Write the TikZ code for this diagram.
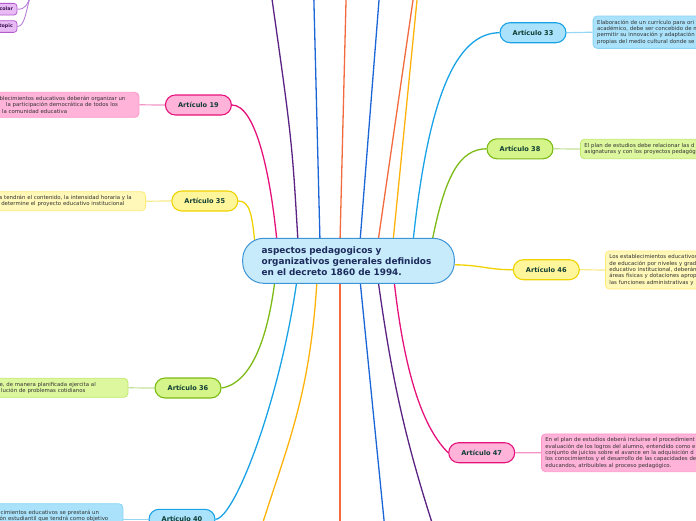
\documentclass[tikz,border=0pt]{standalone}
\usepackage{fontspec}
\setmainfont{DejaVu Sans}
\usepackage{tikz}
\usetikzlibrary{backgrounds}
\definecolor{centroRelleno}{HTML}{C7EBFB}
\definecolor{centroBorde}{HTML}{3D94D4}
\definecolor{centroTexto}{HTML}{1C2B5C}
\definecolor{etiquetaTexto}{HTML}{0F3D34}
\definecolor{cajaTexto}{HTML}{333333}
\definecolor{rosaLinea}{HTML}{E5127C}
\definecolor{rosaRelleno}{HTML}{FFB3D9}
\definecolor{rosaCaja}{HTML}{FF96CB}
\definecolor{amarilloLinea}{HTML}{EFD300}
\definecolor{amarilloRelleno}{HTML}{FFF59B}
\definecolor{amarilloCaja}{HTML}{FFF8B8}
\definecolor{amarilloCajaBorde}{HTML}{FFEB7A}
\definecolor{verdeLinea}{HTML}{7CBB16}
\definecolor{verdeRelleno}{HTML}{D5F58A}
\definecolor{verdeCaja}{HTML}{DDF79E}
\definecolor{verdeCajaBorde}{HTML}{BFE96A}
\definecolor{celesteLinea}{HTML}{19A2E6}
\definecolor{celesteRelleno}{HTML}{A9E2FA}
\definecolor{celesteCajaBorde}{HTML}{8AD5F5}
\definecolor{moradoLinea}{HTML}{5A2383}
\definecolor{azulLinea}{HTML}{1A66D6}
\definecolor{naranjaLinea}{HTML}{F26A3D}
\definecolor{ambarLinea}{HTML}{FFB20A}
\definecolor{lilaRelleno}{HTML}{E9BBF4}
\definecolor{lilaBorde}{HTML}{B25CD0}
\definecolor{lilaLinea}{HTML}{B77FD9}
\definecolor{lilaTexto}{HTML}{3B1452}

\begin{document}
\begin{tikzpicture}[x=1pt,y=-1pt,
  centro/.style={fill=centroRelleno,draw=centroBorde,line width=1pt,rounded corners=21pt,
    minimum width=211.6pt,minimum height=45pt,text width=173.6pt,inner xsep=19pt,align=left,
    font=\fontsize{8.9}{11}\selectfont\bfseries,text=centroTexto},
  pill/.style={rounded corners=10pt,minimum width=66pt,minimum height=20pt,inner sep=0pt,
    line width=1.1pt,font=\fontsize{6.6}{8}\selectfont\bfseries,text=etiquetaTexto},
  caja/.style={rounded corners=4pt,line width=0.8pt,inner xsep=4pt,inner ysep=0pt,align=left,
    font=\fontsize{5.4}{6.3}\selectfont,text=cajaTexto},
  lila/.style={fill=lilaRelleno,draw=lilaBorde,rounded corners=3pt,line width=0.8pt,
    text width=24pt,align=right,inner xsep=4pt,inner ysep=0pt,minimum height=11.7pt,
    font=\fontsize{4.8}{6}\selectfont\bfseries,text=lilaTexto},
  rama/.style={line width=1.3pt},
  enlace/.style={line width=1.2pt}]
\useasboundingbox (0,0) rectangle (696,520);
\clip (0,0) rectangle (696,520);

\node[centro] (main) at (348.5,260.8) {aspectos pedagogicos y\\organizativos generales definidos\\en el decreto 1860 de 1994.};

\node[pill,fill=rosaRelleno,draw=rosaLinea] (art19) at (198.4,105) {Artículo 19};
\node[pill,fill=amarilloRelleno,draw=amarilloLinea] (art35) at (204.8,201) {Artículo 35};
\node[pill,fill=verdeRelleno,draw=verdeLinea] (art36) at (188,388) {Artículo 36};
\node[pill,fill=celesteRelleno,draw=celesteLinea] (art40) at (182,519.3) {Artículo 40};
\node[pill,fill=celesteRelleno,draw=celesteLinea] (art33) at (533,32.7) {Artículo 33};
\node[pill,fill=verdeRelleno,draw=verdeLinea] (art38) at (520,148.8) {Artículo 38};
\node[pill,fill=amarilloRelleno,draw=amarilloLinea] (art46) at (546.3,269.7) {Artículo 46};
\node[pill,fill=rosaRelleno,draw=rosaLinea] (art47) at (481.7,452.7) {Artículo 47};

\node[caja,fill=rosaRelleno,draw=rosaCaja,anchor=east,text width=135.3pt,minimum height=25pt] (caja19) at (139.3,104.8)
  {blecimientos educativos deberán organizar un\\\hspace*{6.5pt}la participación democrática de todos los\\\hspace*{2.5pt}la comunidad educativa};
\node[caja,fill=amarilloCaja,draw=amarilloCajaBorde,anchor=east,text width=142pt,minimum height=19pt] (caja35) at (146,201.2)
  {s tendrán el contenido, la intensidad horaria y la\\\hspace*{1.7pt}determine el proyecto educativo institucional};
\node[caja,fill=verdeCaja,draw=verdeCajaBorde,anchor=east,text width=124.3pt,minimum height=19pt] (caja36) at (128.3,387.8)
  {e, de manera planificada ejercita al\\\hspace*{1.5pt}lución de problemas cotidianos};
\node[caja,fill=celesteRelleno,draw=celesteCajaBorde,anchor=north east,text width=119.3pt,minimum height=25pt] (caja40) at (123.3,503.3)
  {\hspace*{1pt}cimientos educativos se prestará un\\ón estudiantil que tendrá como objetivo};
\node[caja,fill=celesteRelleno,draw=celesteCajaBorde,anchor=west,text width=150pt,minimum height=32.3pt] (caja33) at (592.7,32.2)
  {Elaboración de un currículo para ori\\académico, debe ser concebido de m\\permitir su innovación y adaptación\\propias del medio cultural donde se};
\node[caja,fill=verdeCaja,draw=verdeCajaBorde,anchor=west,text width=150pt,minimum height=19.4pt] (caja38) at (580,149)
  {El plan de estudios debe relacionar las d\\asignaturas y con los proyectos pedagóg};
\node[caja,fill=amarilloCaja,draw=amarilloCajaBorde,anchor=west,text width=150pt,minimum height=38pt] (caja46) at (605,270)
  {Los establecimientos educativos\\de educación por niveles y grad\\educativo institucional, deberán\\áreas físicas y dotaciones aprop\\las funciones administrativas y};
\node[caja,fill=rosaRelleno,draw=rosaCaja,anchor=west,text width=160pt,minimum height=37.7pt] (caja47) at (541,452.8)
  {En el plan de estudios deberá incluirse el procedimient\\evaluación de los logros del alumno, entendido como e\\conjunto de juicios sobre el avance en la adquisición d\\los conocimientos y el desarrollo de las capacidades de\\educandos, atribuibles al proceso pedagógico.};

\node[lila,anchor=east] (sub1) at (17.3,9.2) {colar};
\node[lila,anchor=east] (sub2) at (17.3,26.5) {topic};

\coordinate (cimaMorado) at (270,-15);
\coordinate (cimaAzulA) at (313.5,-15);
\coordinate (cimaNaranjaA) at (346.4,-15);
\coordinate (cimaAzulB) at (380.2,-15);
\coordinate (cimaNaranjaB) at (415.2,-15);
\coordinate (cimaAmbar) at (418.5,-15);
\coordinate (pieAmbar) at (259,535);
\coordinate (pieNaranja) at (340,535);
\coordinate (pieAzul) at (385.5,535);
\coordinate (pieMorado) at (436,535);
\coordinate (cimaLilaA) at (31,-4);
\coordinate (cimaLilaB) at (30.5,-4);

\begin{scope}[on background layer]
\clip (0,0) rectangle (696,520);
\draw[rama,rosaLinea] ([xshift=-71.5pt,yshift=-4pt]main.north) .. controls (270,170) and (255,105) .. (art19.east);
\draw[rama,amarilloLinea] ([xshift=-93.5pt,yshift=-6pt]main.north) .. controls (252,215) and (250,201) .. (art35.east);
\draw[rama,verdeLinea] ([xshift=-73.5pt,yshift=4pt]main.south) .. controls (265,360) and (242,385) .. (art36.east);
\draw[rama,celesteLinea] ([xshift=-51.5pt,yshift=4pt]main.south) .. controls (280,400) and (235,518) .. (art40.east);
\draw[rama,celesteLinea] ([xshift=64.5pt,yshift=-4pt]main.north) .. controls (428,100) and (455,33) .. (art33.west);
\draw[rama,verdeLinea] ([xshift=83.5pt,yshift=-4pt]main.north) .. controls (445,175) and (460,149) .. (art38.west);
\draw[rama,amarilloLinea] ([yshift=-4pt]main.east) .. controls (480,265) and (490,270) .. (art46.west);
\draw[rama,rosaLinea] ([xshift=45.5pt,yshift=4pt]main.south) .. controls (405,380) and (425,430) .. (art47.west);

\draw[rama,moradoLinea] ([xshift=-50.5pt,yshift=-4pt]main.north) .. controls (292,140) .. (cimaMorado);
\draw[rama,azulLinea] ([xshift=-28.5pt,yshift=-4pt]main.north) -- (cimaAzulA);
\draw[rama,naranjaLinea] ([xshift=-8.5pt,yshift=-4pt]main.north) -- (cimaNaranjaA);
\draw[rama,azulLinea] ([xshift=11.5pt,yshift=-4pt]main.north) -- (cimaAzulB);
\draw[rama,naranjaLinea] ([xshift=29.5pt,yshift=-4pt]main.north) -- (cimaNaranjaB);
\draw[rama,ambarLinea] ([xshift=44.5pt,yshift=-4pt]main.north) -- (cimaAmbar);
\draw[rama,ambarLinea] ([xshift=-31.5pt,yshift=4pt]main.south) .. controls (310,400) and (285,450) .. (pieAmbar);
\draw[rama,naranjaLinea] ([xshift=-8.5pt,yshift=4pt]main.south) -- (pieNaranja);
\draw[rama,azulLinea] ([xshift=11.5pt,yshift=4pt]main.south) -- (pieAzul);
\draw[rama,moradoLinea] ([xshift=29.5pt,yshift=4pt]main.south) .. controls (392,380) and (405,440) .. (pieMorado);

\draw[enlace,rosaLinea!45] (art19.west) -- (caja19.east);
\draw[enlace,amarilloLinea!45] (art35.west) -- (caja35.east);
\draw[enlace,verdeLinea!45] (art36.west) -- (caja36.east);
\draw[enlace,celesteLinea!45] (art40.west) -- (art40.west -| caja40.east);
\draw[enlace,celesteLinea!45] (art33.east) -- (caja33.west);
\draw[enlace,verdeLinea!45] (art38.east) -- (caja38.west);
\draw[enlace,amarilloLinea!45] (art46.east) -- (caja46.west);
\draw[enlace,rosaLinea!45] (art47.east) -- (caja47.west);

\draw[line width=0.9pt,lilaLinea] (sub1.east) .. controls (26,9.5) and (27,4) .. (cimaLilaA);
\draw[line width=0.9pt,lilaLinea] (sub2.east) .. controls (25,26.5) and (26,10) .. (cimaLilaB);
\end{scope}
\end{tikzpicture}
\end{document}
